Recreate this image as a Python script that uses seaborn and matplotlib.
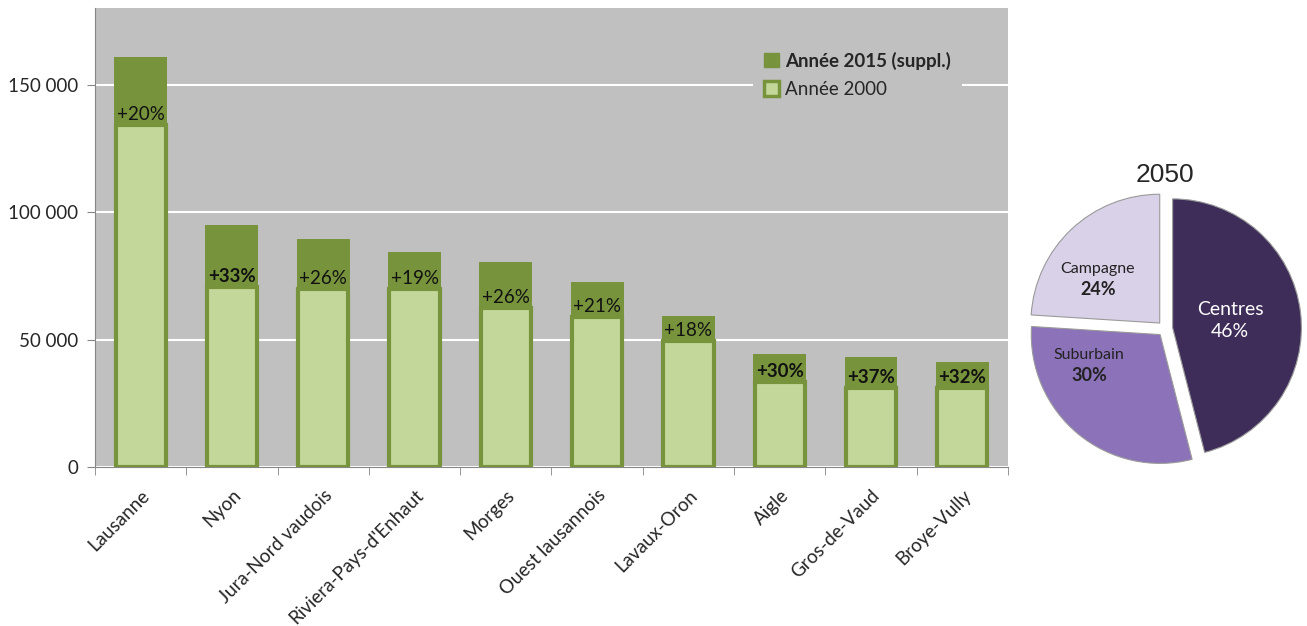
import numpy as np
import matplotlib
matplotlib.use("Agg")
import matplotlib.pyplot as plt
from matplotlib.ticker import FuncFormatter, FixedLocator
from matplotlib.patches import Patch
import seaborn as sns

# Données
regions = ['Lausanne', 'Nyon', 'Jura-Nord vaudois', "Riviera-Pays-d'Enhaut", 'Morges',
           'Ouest lausannois', 'Lavaux-Oron', 'Aigle', 'Gros-de-Vaud', 'Broye-Vully']
pop_2000 = [134000, 70500, 70000, 70000, 62300, 59000, 49600, 33200, 30800, 30800]
pop_2015 = [161000, 95000, 89300, 84200, 80300, 72600, 59200, 44400, 43300, 41300]
croissance = ['+20%', '+33%', '+26%', '+19%', '+26%', '+21%', '+18%', '+30%', '+37%', '+32%']
gras = [False, True, False, False, False, False, False, True, True, True]

pie_labels = ['Centres', 'Suburbain', 'Campagne']
pie_parts = [46, 30, 24]
pie_colors = ['#3e2d59', '#8b72b9', '#d9d1e8']

vert_fonce = '#77933c'
vert_clair = '#c4d79b'
fond = '#c0c0c0'

sns.set_style('white')
plt.rcParams['font.family'] = ['Lato', 'DejaVu Sans']

fig = plt.figure(figsize=(13.07, 6.26), dpi=100)
ax = fig.add_axes([0.0727, 0.254, 0.6985, 0.733])
ax.set_facecolor(fond)

sns.barplot(x=regions, y=pop_2015, color=vert_fonce, saturation=1, width=0.58,
            linewidth=0, ax=ax, zorder=2)
sns.barplot(x=regions, y=pop_2000, color=vert_clair, saturation=1, width=0.55,
            edgecolor=vert_fonce, linewidth=3, ax=ax, zorder=3)

for i, (v, txt, b) in enumerate(zip(pop_2000, croissance, gras)):
    ax.text(i, v + 800, txt, ha='center', va='bottom', fontsize=13.5,
            fontweight='bold' if b else 'normal', color='#111111', zorder=4)

ax.set_ylim(0, 180000)
ax.set_xlim(-0.5, len(regions) - 0.5)
ax.set_yticks([0, 50000, 100000, 150000])
ax.yaxis.set_major_formatter(FuncFormatter(lambda v, p: f'{int(v):,}'.replace(',', ' ')))
ax.grid(axis='y', color='white', linewidth=1.5, zorder=0)
ax.set_axisbelow(True)
ax.tick_params(axis='y', length=6, color='#868686', labelsize=13.5, pad=6, left=True)
ax.tick_params(axis='x', length=0, labelsize=13.5, pad=14)
ax.xaxis.set_minor_locator(FixedLocator(np.arange(-0.5, len(regions), 1)))
ax.tick_params(axis='x', which='minor', length=6, color='#868686', bottom=True)
plt.setp(ax.get_xticklabels(), rotation=45, ha='right', rotation_mode='anchor')
for s in ['top', 'right']:
    ax.spines[s].set_visible(False)
for s in ['left', 'bottom']:
    ax.spines[s].set_color('#868686')
ax.set_xlabel('')
ax.set_ylabel('')

handles = [Patch(facecolor=vert_fonce, edgecolor=vert_fonce),
           Patch(facecolor=vert_clair, edgecolor=vert_fonce, linewidth=2.5)]
leg = ax.legend(handles, ['Année 2015 (suppl.)', 'Année 2000'], loc='upper right',
                bbox_to_anchor=(0.96, 0.95), fontsize=13.5, frameon=True,
                facecolor=fond, edgecolor='none', framealpha=1,
                handlelength=0.8, handleheight=0.8, handletextpad=0.3,
                borderpad=0.6, labelspacing=0.6, fancybox=False)
leg.get_texts()[0].set_fontweight('bold')

# Camembert 2050
axp = fig.add_axes([0.7735, 0.229, 0.2357, 0.492])
wedges, _ = axp.pie(pie_parts, colors=pie_colors, startangle=90, counterclock=False,
                    explode=[0.055, 0.055, 0.055], radius=0.92,
                    wedgeprops=dict(linewidth=0.8, edgecolor='#9a9a9a'))
axp.set_xlim(-1.1, 1.1)
axp.set_ylim(-1.1, 1.1)
axp.set_aspect('equal')
axp.set_title('2050', fontsize=19, family=['Liberation Sans'], pad=0, y=0.975)

reglages = {'Centres': (0.47, 'white', 14, 'normal', 14, 0.0),
            'Suburbain': (0.6, '#222222', 11.5, 'bold', 13, -25),
            'Campagne': (0.6, '#222222', 11.5, 'bold', 13, 10)}
for w, nom, part in zip(wedges, pie_labels, pie_parts):
    r, col, fs1, fw, fs2, dang = reglages[nom]
    ang = np.deg2rad((w.theta1 + w.theta2) / 2 + dang)
    x, y = r * np.cos(ang), r * np.sin(ang)
    axp.text(x, y + 0.02, nom, ha='center', va='bottom', fontsize=fs1, color=col)
    axp.text(x, y - 0.02, f'{part}%', ha='center', va='top', fontsize=fs2,
             fontweight=fw, color=col)

fig.savefig('out.png', dpi=100)
